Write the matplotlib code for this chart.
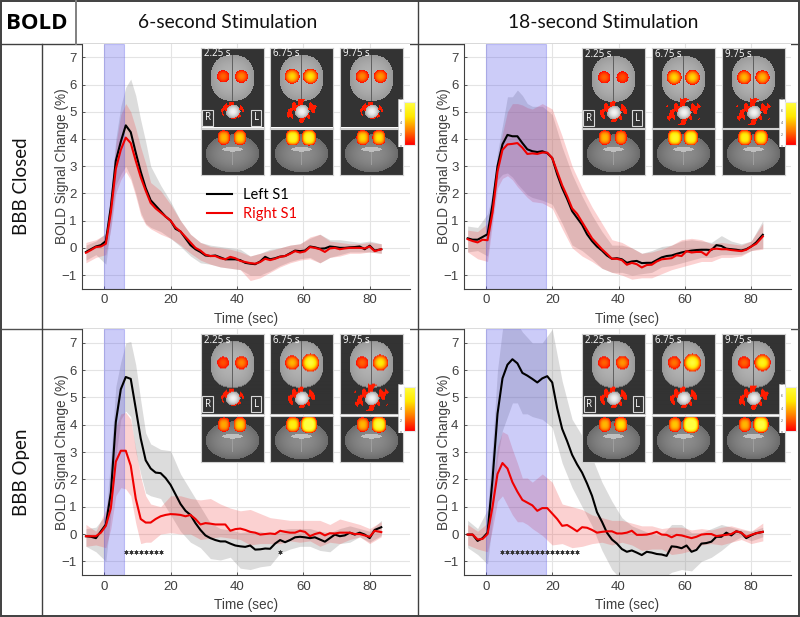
import numpy as np
import matplotlib
matplotlib.use("Agg")
import matplotlib.pyplot as plt
from matplotlib.colors import LinearSegmentedColormap
from matplotlib.patches import Rectangle

plt.rcParams['font.family'] = ['Liberation Sans', 'DejaVu Sans']

W, H = 800, 617

# time grid of the mean curves
t_mean = [-5.5, -4, -2.5, -1, 0.5, 2, 3.5, 5, 6.5, 8, 9.5, 11, 12.5, 14, 15.5, 17, 18.5, 20, 21.5, 23,
          24.5, 26, 27.5, 29, 30.5, 32, 33.5, 35, 36.5, 38, 39.5, 41, 42.5, 44, 45.5, 47, 48.5, 50, 51.5, 53,
          54.5, 56, 57.5, 59, 60.5, 62, 63.5, 65, 66.5, 68, 69.5, 71, 72.5, 74, 75.5, 77, 78.5, 80, 81.5, 83.5]
# time grid of the shaded bands
t_band = [-5.5, -2.5, 0.5, 2, 3.5, 5, 6.5, 8, 9.5, 11, 12.5, 14, 17, 20, 23, 26, 29, 32, 35, 38,
          41, 44, 47, 50, 53, 56, 59, 62, 65, 68, 71, 74, 77, 80, 83.5]

# 6 s, BBB closed
a_left = [-0.15, -0.05, 0.05, 0.1, 0.25, 1.5, 3.2, 3.9, 4.5, 4.25, 3.5, 2.8, 2.2, 1.75, 1.55, 1.35, 1.15, 1.0, 0.7, 0.6,
          0.35, 0.1, -0.05, -0.15, -0.28, -0.3, -0.28, -0.35, -0.42, -0.42, -0.42, -0.45, -0.55, -0.58, -0.6, -0.5, -0.33, -0.42, -0.38, -0.32,
          -0.3, -0.2, -0.1, -0.12, -0.1, 0.05, 0.02, -0.03, -0.02, 0.05, 0.03, 0.0, 0.0, 0.02, 0.03, 0.05, -0.05, 0.08, -0.1, -0.05]
a_right = [-0.18, -0.08, 0.03, 0.05, 0.15, 1.3, 2.9, 3.6, 4.05, 3.85, 3.2, 2.6, 2.1, 1.65, 1.45, 1.3, 1.15, 1.0, 0.75, 0.6,
           0.4, 0.2, 0.0, -0.1, -0.25, -0.3, -0.3, -0.38, -0.42, -0.33, -0.38, -0.48, -0.52, -0.56, -0.58, -0.52, -0.4, -0.45, -0.4, -0.33,
           -0.3, -0.22, -0.12, -0.17, -0.13, 0.03, 0.0, -0.05, -0.15, -0.02, 0.0, -0.05, -0.02, 0.0, 0.0, 0.0, -0.02, 0.05, -0.12, -0.05]
a_left_hi = [0.1, 0.25, 0.55, 2.0, 4.0, 5.2, 5.9, 6.2, 5.6, 4.7, 3.9, 3.0, 2.3, 1.7, 1.0, 0.5, 0.2, 0.1, 0.05, 0.0,
             -0.05, -0.3, -0.2, -0.05, 0.0, 0.1, 0.15, 0.35, 0.5, 0.3, 0.3, 0.25, 0.2, 0.25, 0.15]
a_left_lo = [-0.45, -0.25, -0.6, 0.8, 2.3, 2.7, 3.0, 2.6, 2.0, 1.3, 0.9, 0.75, 0.6, 0.35, 0.05, -0.3, -0.55, -0.6, -0.7, -0.75,
             -0.8, -1.0, -1.0, -0.85, -0.65, -0.5, -0.4, -0.35, -0.55, -0.35, -0.25, -0.15, -0.15, -0.15, -0.2]
a_right_hi = [0.2, 0.3, 0.5, 1.9, 3.8, 4.9, 5.3, 5.0, 4.4, 3.7, 3.1, 2.4, 2.1, 1.6, 1.0, 0.5, 0.2, 0.05, 0.0, -0.05,
              -0.15, -0.3, -0.2, -0.1, 0.0, 0.1, 0.15, 0.4, 0.5, 0.25, 0.2, 0.15, 0.15, 0.2, 0.15]
a_right_lo = [-0.55, -0.35, -0.25, 0.7, 2.0, 2.5, 2.8, 2.5, 1.9, 1.2, 0.85, 0.7, 0.5, 0.35, 0.1, -0.2, -0.45, -0.6, -0.7, -0.75,
              -0.8, -1.2, -1.1, -0.9, -0.7, -0.55, -0.45, -0.4, -0.55, -0.35, -0.3, -0.2, -0.2, -0.15, -0.2]

# 18 s, BBB closed
b_left = [0.35, 0.3, 0.3, 0.4, 0.5, 1.6, 3.0, 3.8, 4.15, 4.1, 4.1, 3.85, 3.62, 3.55, 3.52, 3.55, 3.48, 3.3, 2.7, 2.2,
          1.8, 1.35, 1.1, 0.85, 0.5, 0.25, 0.05, -0.1, -0.28, -0.4, -0.38, -0.42, -0.55, -0.5, -0.48, -0.56, -0.55, -0.55, -0.45, -0.35,
          -0.3, -0.28, -0.22, -0.17, -0.13, -0.1, -0.08, -0.07, -0.07, -0.08, 0.1, 0.07, -0.03, -0.05, -0.07, -0.1, -0.05, 0.05, 0.2, 0.48]
b_right = [0.32, 0.25, 0.2, 0.3, 0.28, 1.3, 2.8, 3.6, 3.8, 3.82, 3.85, 3.68, 3.45, 3.47, 3.45, 3.5, 3.5, 3.3, 2.8, 2.3,
           1.9, 1.45, 1.25, 0.95, 0.65, 0.35, 0.15, -0.05, -0.22, -0.4, -0.4, -0.45, -0.62, -0.55, -0.6, -0.72, -0.63, -0.62, -0.5, -0.42,
           -0.4, -0.38, -0.27, -0.3, -0.12, -0.17, -0.15, -0.15, -0.27, -0.05, -0.03, -0.05, -0.05, -0.08, -0.1, -0.12, -0.07, 0.05, 0.15, 0.42]
b_left_hi = [0.8, 0.75, 1.25, 2.0, 3.5, 4.5, 5.55, 5.55, 5.8, 5.6, 5.3, 5.2, 5.2, 4.9, 3.7, 2.7, 1.9, 1.2, 0.6, 0.1,
             0.1, 0.0, -0.2, -0.1, 0.05, 0.1, 0.25, 0.3, 0.25, 0.2, 0.45, 0.25, 0.15, 0.25, 1.0]
b_left_lo = [-0.15, -0.1, -0.3, 1.2, 2.5, 2.7, 2.75, 2.6, 2.35, 2.15, 1.95, 1.85, 1.75, 1.6, 0.9, 0.1, -0.1, -0.4, -0.75, -0.9,
             -0.9, -1.0, -0.95, -0.9, -0.7, -0.65, -0.55, -0.45, -0.35, -0.35, -0.25, -0.25, -0.25, -0.1, 0.0]
b_right_hi = [0.65, 0.6, 0.9, 1.8, 3.3, 4.2, 5.0, 5.3, 5.3, 5.25, 5.15, 5.1, 5.3, 5.1, 4.1, 3.0, 2.2, 1.5, 0.9, 0.3,
              0.2, 0.0, -0.2, -0.15, -0.05, 0.1, 0.3, 0.35, 0.3, 0.15, 0.2, 0.15, 0.1, 0.25, 0.9]
b_right_lo = [-0.15, -0.4, -0.5, 0.9, 2.2, 2.55, 2.65, 2.5, 2.25, 2.05, 1.85, 1.7, 1.65, 1.45, 0.7, 0.0, -0.3, -0.5, -0.75, -0.9,
              -1.0, -1.15, -1.1, -1.1, -0.95, -0.8, -0.7, -0.6, -0.5, -0.5, -0.35, -0.35, -0.3, -0.1, -0.05]

# 6 s, BBB open
c_left = [-0.08, -0.1, -0.15, 0.1, 0.35, 1.5, 4.1, 5.3, 5.75, 5.68, 4.6, 3.5, 2.7, 2.4, 2.25, 2.23, 2.05, 1.8, 1.45, 1.1,
          0.85, 0.7, 0.4, 0.15, -0.05, -0.15, -0.22, -0.27, -0.27, -0.35, -0.42, -0.45, -0.47, -0.42, -0.57, -0.56, -0.53, -0.54, -0.35, -0.22,
          -0.3, -0.22, -0.12, -0.1, -0.12, -0.15, -0.12, -0.2, -0.28, -0.15, -0.02, -0.08, -0.05, 0.05, -0.02, 0.05, -0.02, -0.15, 0.15, 0.25]
c_right = [-0.08, -0.08, -0.08, 0.05, 0.3, 0.95, 2.65, 3.05, 3.05, 2.5, 1.3, 0.55, 0.42, 0.42, 0.55, 0.65, 0.7, 0.73, 0.72, 0.7,
           0.65, 0.7, 0.55, 0.35, 0.4, 0.38, 0.35, 0.35, 0.35, 0.12, 0.18, 0.2, 0.15, 0.08, 0.05, -0.02, 0.0, 0.02, 0.0, 0.12,
           0.08, 0.05, 0.05, 0.12, 0.08, -0.08, 0.0, 0.05, -0.05, 0.03, 0.02, 0.05, 0.05, 0.05, 0.0, 0.0, -0.05, -0.1, 0.12, 0.07]
c_left_hi = [0.2, 0.25, 0.7, 2.8, 5.4, 6.3, 7.0, 7.05, 6.2, 4.9, 3.7, 3.3, 3.1, 3.05, 2.2, 1.6, 1.0, 0.4, 0.2, 0.15,
             0.05, 0.1, 0.1, 0.0, 0.15, 0.2, 0.2, 0.2, 0.1, 0.05, 0.2, 0.3, 0.2, 0.1, 0.5]
c_left_lo = [-0.45, -0.65, -1.0, 0.7, 2.8, 4.2, 4.5, 4.3, 3.0, 2.2, 1.5, 1.4, 1.3, 0.7, 0.1, -0.3, -0.5, -0.9, -0.95, -0.85,
             -1.25, -1.3, -1.2, -1.15, -0.7, -0.55, -0.45, -0.45, -0.6, -0.65, -0.35, -0.3, -0.1, -0.3, -0.05]
c_right_hi = [0.35, 0.1, 0.9, 1.8, 3.9, 4.4, 4.45, 4.2, 3.1, 2.1, 1.4, 1.1, 1.0, 1.4, 1.4, 1.3, 1.25, 1.3, 1.1, 0.95,
              0.85, 0.9, 0.75, 0.6, 0.55, 0.5, 0.5, 0.5, 0.5, 0.35, 0.55, 0.45, 0.35, 0.2, 0.45]
c_right_lo = [-0.45, -0.4, -0.5, 0.2, 1.4, 1.7, 1.65, 1.4, 0.4, -0.35, -0.3, -0.3, 0.0, 0.05, 0.0, 0.0, -0.2, -0.15, -0.1, -0.15,
              -0.2, -0.4, -0.35, -0.35, -0.35, -0.25, -0.3, -0.25, -0.45, -0.3, -0.35, -0.2, -0.1, -0.35, -0.1]

# 18 s, BBB open
d_left = [-0.02, -0.02, -0.25, -0.15, 0.05, 2.0, 4.4, 5.7, 6.2, 6.4, 6.25, 5.9, 5.8, 5.68, 5.55, 5.7, 5.78, 5.55, 4.6, 3.85,
          3.4, 2.9, 2.55, 2.25, 1.85, 1.4, 0.8, 0.45, 0.05, -0.2, -0.35, -0.55, -0.65, -0.6, -0.68, -0.77, -0.65, -0.68, -0.73, -0.75,
          -0.8, -0.45, -0.47, -0.52, -0.42, -0.65, -0.58, -0.35, -0.33, -0.28, -0.1, -0.1, 0.05, -0.05, 0.1, 0.05, -0.15, -0.05, 0.03, 0.08]
d_right = [-0.02, -0.02, -0.2, -0.18, 0.0, 1.0, 2.2, 2.6, 2.4, 1.9, 1.55, 1.25, 1.15, 1.05, 0.85, 0.95, 0.95, 0.75, 0.55, 0.3,
           0.33, 0.22, 0.1, 0.25, 0.23, 0.15, 0.05, 0.08, 0.1, 0.1, 0.02, 0.02, 0.05, 0.12, -0.03, -0.03, -0.02, 0.02, 0.08, -0.02,
           -0.03, -0.12, -0.03, -0.05, -0.1, -0.15, -0.1, -0.02, 0.0, 0.0, -0.08, -0.05, -0.03, 0.0, 0.1, 0.05, -0.1, -0.03, 0.03, 0.08]
d_left_hi = [0.5, 0.2, 0.9, 3.2, 6.0, 7.5, 8.0, 8.0, 7.7, 7.4, 7.2, 7.0, 7.0, 7.5, 5.6, 4.2, 3.6, 2.8, 1.9, 1.2,
             0.6, 0.3, 0.15, 0.0, -0.05, 0.35, 0.35, 0.05, 0.05, 0.2, 0.35, 0.25, 0.15, 0.1, 0.25]
d_left_lo = [-0.5, -0.75, -1.1, 0.5, 2.8, 3.8, 4.3, 4.8, 4.8, 4.4, 4.4, 4.3, 4.2, 3.9, 2.6, 1.7, 1.0, 0.3, -0.6, -1.3,
             -1.7, -1.7, -1.55, -1.5, -1.65, -1.4, -1.3, -1.35, -1.0, -0.85, -0.6, -0.3, -0.1, -0.25, -0.1]
d_right_hi = [0.35, 0.1, 0.4, 1.8, 3.2, 3.75, 3.65, 3.1, 2.6, 2.05, 2.05, 1.9, 2.2, 1.9, 1.1, 1.0, 0.9, 0.7, 0.6, 0.5,
              0.5, 0.4, 0.3, 0.3, 0.2, 0.25, 0.25, 0.15, 0.2, 0.15, 0.25, 0.3, 0.2, 0.1, 0.4]
d_right_lo = [-0.4, -0.55, -0.65, 0.2, 1.2, 1.4, 1.05, 0.7, 0.45, 0.45, 0.35, 0.2, -0.05, -0.4, -0.35, -0.5, -0.45, -0.35, -0.3, -0.4,
              -0.3, -0.4, -0.6, -0.55, -0.55, -0.75, -0.7, -0.6, -0.4, -0.35, -0.4, -0.3, -0.2, -0.35, -0.25]

# significance markers
c_stars = [6.5, 8, 9.5, 11, 12.5, 14, 15.5, 17, 53]
d_stars = [5, 6.5, 8, 9.5, 11, 12.5, 14, 15.5, 17, 18.5, 20, 21.5, 23, 24.5, 26, 27.5]

x_ticks = [0, 20, 40, 60, 80]
y_ticks = [-1, 0, 1, 2, 3, 4, 5, 6, 7]
time_labels = ['2.25 s', '6.75 s', '9.75 s']

# activation strength for the (R, L) blobs, one row per time label
a_peaks = [(0.25, 0.35), (0.6, 0.65), (0.35, 0.4)]
b_peaks = [(0.25, 0.2), (0.6, 0.6), (0.5, 0.5)]
c_peaks = [(0.2, 0.35), (0.5, 0.95), (0.25, 0.7)]
d_peaks = [(0.25, 0.4), (0.3, 0.95), (0.25, 0.8)]
# how far activation spreads around the hindbrain
a_spread = [0.3, 0.7, 0.3]
b_spread = [0.5, 0.9, 0.9]
c_spread = [0.3, 0.5, 0.9]
d_spread = [0.5, 0.5, 0.7]

hot = LinearSegmentedColormap.from_list('hot2', ['#ff0000', '#ff7a00', '#ffe800', '#ffff40'])


def add_axes_px(fig, x0, y0, x1, y1):
    return fig.add_axes([x0 / W, 1 - y1 / H, (x1 - x0) / W, (y1 - y0) / H])


def ellipse(xx, yy, cx, cy, rx, ry, p=2):
    return (np.abs(xx - cx) / rx) ** p + (np.abs(yy - cy) / ry) ** p


def overlay(rgb, val):
    mask = val > 0
    rgb[mask] = hot(np.clip(val[mask], 0, 1))[:, :3]
    return rgb


def axial_image(peaks, spread):
    xx, yy = np.meshgrid(np.linspace(0, 1, 63), np.linspace(0, 1, 80))
    grey = np.full(xx.shape, 0.2)
    r = ellipse(xx, yy, 0.5, 0.385, 0.35, 0.29, 2.4)
    grey[r < 1] = 0.7 - 0.1 * r[r < 1]
    grey[(np.abs(xx - 0.5) < 0.012) & (r < 1)] = 0.38
    hind = ellipse(xx, yy, 0.51, 0.81, 0.12, 0.09)
    grey[hind < 1] = 0.6 + 0.35 * (1 - hind[hind < 1])
    rgb = np.dstack([grey, grey, grey])

    val = np.zeros(xx.shape)
    for cx, p in zip((0.35, 0.645), peaks):
        r = ellipse(xx, yy, cx, 0.365, 0.085 + 0.06 * p, 0.065 + 0.05 * p)
        val = np.where(r < 1, (1 - r) * p + 0.02, val)
    # patchy activation around the hindbrain
    ring = ellipse(xx, yy, 0.5, 0.8, 0.12 + 0.2 * spread, 0.08 + 0.1 * spread)
    patch = np.sin(xx * 47) * np.cos(yy * 31) + np.sin((xx + yy) * 23)
    val = np.where((ring < 1) & (hind >= 0.8) & (patch > 0.2), 0.08, val)
    return overlay(rgb, val)


def coronal_image(peaks):
    xx, yy = np.meshgrid(np.linspace(0, 1, 63), np.linspace(0, 1, 46))
    grey = np.full(xx.shape, 0.2)
    r = ellipse(xx, yy, 0.5, 0.53, 0.43, 0.42)
    grey[r < 1] = 0.55 - 0.13 * r[r < 1]
    grey[(ellipse(xx, yy, 0.5, 0.44, 0.17, 0.05) < 1)] = 0.75
    grey[(np.abs(xx - 0.5) < 0.012) & (yy > 0.5) & (yy < 0.8)] = 0.62
    rgb = np.dstack([grey, grey, grey])

    val = np.zeros(xx.shape)
    for cx, p in zip((0.36, 0.62), peaks):
        r = ellipse(xx, yy, cx, 0.18, 0.085 + 0.05 * p, 0.15 + 0.04 * p, 2.6)
        val = np.where(r < 1, (1 - r) * (p + 0.25) + 0.02, val)
    return overlay(rgb, val)


def draw_insets(fig, xs, y_ax, y_cor, cbar, peaks, spread):
    for i, x0 in enumerate(xs):
        ax = add_axes_px(fig, x0, y_ax, x0 + 63, y_ax + 80)
        ax.imshow(axial_image(peaks[i], spread[i]), aspect='auto', interpolation='bilinear', extent=(0, 1, 1, 0))
        ax.text(0.05, 0.08, time_labels[i], color='white', fontsize=7, va='center', family='Open Sans')
        if i == 0:
            for xl, s in ((0.11, 'R'), (0.88, 'L')):
                ax.text(xl, 0.88, s, color='white', fontsize=7, ha='center', va='center', family='Open Sans',
                        bbox=dict(boxstyle='square,pad=0.25', fc='#333333', ec='#d8d8d8', lw=0.8))
        ax.set_xticks([]); ax.set_yticks([])
        for s in ax.spines.values():
            s.set_color('#d0d0d0')

        ax2 = add_axes_px(fig, x0, y_cor, x0 + 63, y_cor + 46)
        ax2.imshow(coronal_image(peaks[i]), aspect='auto', interpolation='bilinear')
        ax2.set_xticks([]); ax2.set_yticks([])
        for s in ax2.spines.values():
            s.set_color('#d0d0d0')

    # colour bar with its tiny labels
    cx0, cy0, cy1 = cbar
    lab = add_axes_px(fig, cx0 - 5, cy0 - 3, cx0 + 1, cy1 + 2)
    lab.axis('off')
    lab.add_patch(Rectangle((0, 0), 1, 1, transform=lab.transAxes, fc='white', ec='#cccccc', lw=0.4))
    for v in (0, 2, 4, 6, 8):
        lab.text(0.5, v / 8, str(v), fontsize=2.5, color='#555555', ha='center', va='center', transform=lab.transAxes)
    cb = add_axes_px(fig, cx0 + 1, cy0, cx0 + 12, cy1)
    cb.imshow(np.linspace(1, 0, 60)[:, None], cmap=hot, aspect='auto')
    cb.set_xticks([]); cb.set_yticks([])
    for s in cb.spines.values():
        s.set_color('#e8e8e8')


def draw_panel(fig, box, stim, left, right, left_band, right_band, stars=None):
    ax = add_axes_px(fig, *box)
    ax.fill_between(t_band, left_band[1], left_band[0], color='#8c8c8c', alpha=0.3, lw=0)
    ax.fill_between(t_band, right_band[1], right_band[0], color='#f04040', alpha=0.24, lw=0)
    ax.axvspan(0, stim, color='#4a4ae8', alpha=0.28, lw=0.8, zorder=2)
    l1, = ax.plot(t_mean, left, color='black', lw=1.5, label='Left S1', zorder=3)
    l2, = ax.plot(t_mean, right, color='#f00000', lw=1.5, label='Right S1', zorder=4)
    if stars:
        ax.plot(stars, [-0.67] * len(stars), ls='none', marker=(6, 2, 0), ms=3.0, color='#333333', mew=0.5, zorder=5)

    ax.set_xlim(-6.6, 92)
    ax.set_ylim(-1.5, 7.5)
    ax.set_xticks(x_ticks)
    ax.set_yticks(y_ticks)
    ax.tick_params(direction='in', length=2.5, width=0.6, colors='#404040', labelsize=9.5, pad=4)
    ax.grid(True, color='#e4e4e4', lw=0.8)
    ax.set_axisbelow(True)
    ax.spines['top'].set_visible(False)
    ax.spines['right'].set_visible(False)
    ax.spines['left'].set_color('#404040')
    ax.spines['bottom'].set_color('#404040')
    ax.set_xlabel('Time (sec)', fontsize=9.8, color='#404040', labelpad=4)
    ax.set_ylabel('BOLD Signal Change (%)', fontsize=9.8, color='#404040', labelpad=-5.5)
    return ax, l1, l2


fig = plt.figure(figsize=(W / 100, H / 100), dpi=100, facecolor='white')

# table frame drawn in pixel coordinates
frame = fig.add_axes([0, 0, 1, 1])
frame.set_xlim(0, W)
frame.set_ylim(H, 0)
frame.axis('off')
frame.add_patch(Rectangle((1.2, 1.2), W - 2.4, H - 2.6, fill=False, ec='#404040', lw=1.4))
frame.plot([1, W - 1], [43.5, 43.5], color='#404040', lw=1.0)
frame.plot([1, W - 1], [328.5, 328.5], color='#505050', lw=1.0)
frame.plot([41.5, 41.5], [43.5, H - 1], color='#404040', lw=1.0)
frame.plot([76, 76], [1, 43.5], color='#808080', lw=1.4)
frame.plot([418, 418], [1, H - 1], color='#404040', lw=1.0)

frame.text(37, 23.5, 'BOLD', fontsize=16, fontweight='bold', family='Open Sans', ha='center', va='center', color='black')
frame.text(228, 22.5, '6-second Stimulation', fontsize=13.9, family='Lato', ha='center', va='center', color='#111111')
frame.text(603, 22.5, '18-second Stimulation', fontsize=13.9, family='Lato', ha='center', va='center', color='#111111')
frame.text(22, 186, 'BBB Closed', fontsize=13.5, family='Lato', rotation=90, ha='center', va='center', color='#111111')
frame.text(22, 472, 'BBB Open', fontsize=13.5, family='Lato', rotation=90, ha='center', va='center', color='#111111')

ax_a, l1, l2 = draw_panel(fig, (82.3, 43.7, 409.5, 288.7), 6, a_left, a_right, (a_left_hi, a_left_lo), (a_right_hi, a_right_lo))
draw_panel(fig, (464, 43.7, 791, 288.7), 18, b_left, b_right, (b_left_hi, b_left_lo), (b_right_hi, b_right_lo))
draw_panel(fig, (82.3, 329.2, 409.5, 575), 6, c_left, c_right, (c_left_hi, c_left_lo), (c_right_hi, c_right_lo), c_stars)
draw_panel(fig, (464, 329.2, 791, 575), 18, d_left, d_right, (d_left_hi, d_left_lo), (d_right_hi, d_right_lo), d_stars)

ax_a.legend(handles=[l1, l2], loc='upper left', bbox_to_anchor=(0.382, 0.411), frameon=False,
            labelcolor='linecolor', handlelength=1.7, handletextpad=0.75, labelspacing=0.35,
            prop={'family': 'Lato', 'size': 10.5}, borderpad=0, borderaxespad=0)

draw_insets(fig, (201, 270, 340), 47.5, 129, (403, 102, 145), a_peaks, a_spread)
draw_insets(fig, (581.7, 651.7, 722), 48, 129, (783.5, 102, 145), b_peaks, b_spread)
draw_insets(fig, (201, 270, 340), 334, 416, (403, 387, 431), c_peaks, c_spread)
draw_insets(fig, (582.3, 651.7, 722), 334, 416, (783.5, 387, 431), d_peaks, d_spread)

fig.savefig('out.png', dpi=100)
